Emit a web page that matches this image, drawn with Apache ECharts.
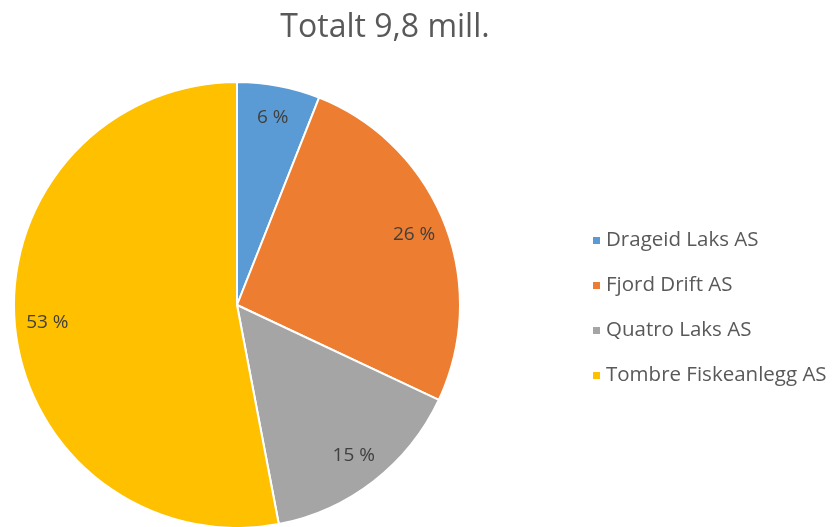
<!DOCTYPE html>
<html>
<head>
<meta charset="utf-8">
<script src="https://cdn.jsdelivr.net/npm/echarts@6/dist/echarts.min.js"></script>
<style>
  html, body { margin: 0; padding: 0; background: #fff; }
  #main { width: 838px; height: 527px; }
</style>
</head>
<body>
<div id="main"></div>
<script>
// data
var names = ['Drageid Laks AS', 'Fjord Drift AS', 'Quatro Laks AS', 'Tombre Fiskeanlegg AS'];
var shares = [6, 26, 15, 53];
var colors = ['#5B9BD5', '#ED7D31', '#A5A5A5', '#FFC000'];

var pieData = [];
for (var i = 0; i < names.length; i++) {
  pieData.push({ name: names[i], value: shares[i] });
}

var myChart = echarts.init(document.getElementById('main'));

var option = {
  backgroundColor: '#ffffff',
  color: colors,
  animation: false,
  title: {
    text: 'Totalt 9,8 mill.',
    left: 380,
    textAlign: 'center',
    top: 7,
    textStyle: {
      color: '#595959',
      fontSize: 32,
      fontWeight: 'normal',
      fontFamily: 'Open Sans'
    }
  },
  legend: {
    orient: 'vertical',
    left: 586,
    top: 225,
    itemGap: 24,
    itemWidth: 9,
    itemHeight: 9,
    icon: 'rect',
    textStyle: {
      color: '#595959',
      fontSize: 20.5,
      fontFamily: 'Open Sans'
    },
    data: names
  },
  series: [
    {
      // the slices
      type: 'pie',
      center: [237, 305],
      radius: [0, 223],
      startAngle: 90,
      clockwise: true,
      label: { show: false },
      labelLine: { show: false },
      itemStyle: { borderColor: '#ffffff', borderWidth: 2 },
      emphasis: { disabled: true },
      data: pieData
    },
    {
      // transparent ring that only carries the labels near the rim
      type: 'pie',
      center: [237, 305],
      radius: [152, 223],
      startAngle: 90,
      clockwise: true,
      silent: true,
      legendHoverLink: false,
      itemStyle: { color: 'rgba(0,0,0,0)', borderWidth: 0 },
      labelLine: { show: false },
      label: {
        show: true,
        position: 'inside',
        formatter: function (p) { return p.value + ' %'; },
        color: '#404040',
        fontSize: 19,
        fontFamily: 'Open Sans'
      },
      emphasis: { disabled: true },
      data: pieData
    }
  ]
};

myChart.setOption(option);
</script>
</body>
</html>
